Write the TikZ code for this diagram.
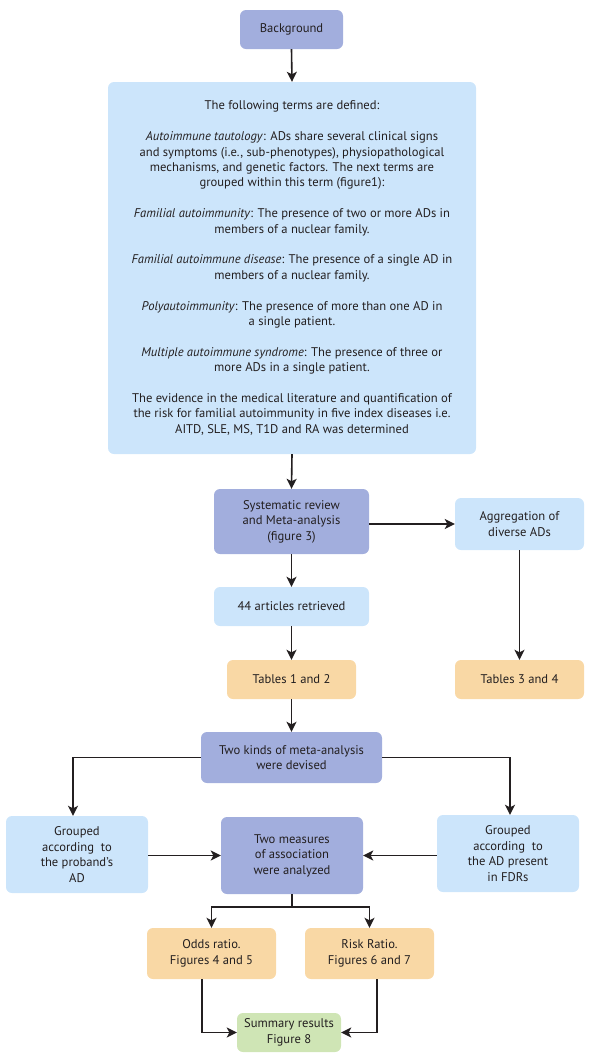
\documentclass[tikz,border=0pt]{standalone}
\usepackage{fontspec}
\setmainfont{PT Sans}
\usetikzlibrary{arrows.meta,calc}
\definecolor{purp}{HTML}{A2AEDD}
\definecolor{lblue}{HTML}{CCE5FB}
\definecolor{orng}{HTML}{F9D8A5}
\definecolor{grn}{HTML}{CFE5B5}
\definecolor{txt}{HTML}{231F20}
\begin{document}
\begin{tikzpicture}[x=1pt,y=-1pt,
  bx/.style n args={3}{fill=#1, minimum width=#2, minimum height=#3, rounded corners=6pt,
     align=center, inner sep=0pt, text=txt, font=\fontsize{12.6}{15.4}\selectfont},
  arr/.style={draw=txt, line width=1.6pt, -{Stealth[length=10pt,width=10pt,inset=2.5pt]}},
  ln/.style={draw=txt, line width=1.6pt}]
\useasboundingbox (0,0) rectangle (600,1061);
\node[bx={purp}{103}{39}] (bg) at (291.5,29.5) {Background};
\node[bx={lblue}{368}{372}] (big) at (292,268) {The following terms are defined:\\[15.4pt]
\textit{Autoimmune tautology}: ADs share several clinical signs\\
and symptoms (i.e., sub-phenotypes), physiopathological\\
mechanisms, and genetic factors. The next terms are\\
grouped within this term (figure1):\\[15.4pt]
\textit{Familial autoimmunity}: The presence of two or more ADs in\\
members of a nuclear family.\\[15.4pt]
\textit{Familial autoimmune disease}: The presence of a single AD in\\
members of a nuclear family.\\[15.4pt]
\textit{Polyautoimmunity}: The presence of more than one AD in\\
a single patient.\\[15.4pt]
\textit{Multiple autoimmune syndrome}: The presence of three or\\
more ADs in a single patient.\\[15.4pt]
The evidence in the medical literature and quantification of\\
the risk for familial autoimmunity in five index diseases i.e.\\
AITD, SLE, MS, T1D and RA was determined};
\node[bx={purp}{155}{65}] (sr) at (291.5,521.5) {Systematic review\\and Meta-analysis\\(figure 3)};
\node[bx={lblue}{129}{52}] (agg) at (519.5,524) {Aggregation of\\diverse ADs};
\node[bx={lblue}{155}{39}] (art) at (291.5,606.5) {44 articles retrieved};
\node[bx={orng}{129}{39}] (t12) at (291.5,679.5) {Tables 1 and 2};
\node[bx={orng}{129}{39}] (t34) at (519.5,679.5) {Tables 3 and 4};
\node[bx={purp}{181}{51}] (tk) at (291.5,757.5) {Two kinds of meta-analysis\\were devised};
\node[bx={lblue}{142}{77}] (gl) at (77,854.5) {Grouped\\according\ \ to\\the proband's\\AD};
\node[bx={purp}{142}{77}] (tm) at (292,855.5) {Two measures\\of association\\were analyzed};
\node[bx={lblue}{142}{77}] (gr) at (508,853.5) {Grouped\\according\ \ to\\the AD present\\in FDRs};
\node[bx={orng}{129}{51}] (odds) at (211.5,953.5) {Odds ratio.\\Figures 4 and 5};
\node[bx={orng}{129}{51}] (risk) at (369.5,953.5) {Risk Ratio.\\Figures 6 and 7};
\node[bx={grn}{104}{39}] (sum) at (289,1032.5) {Summary results\\Figure 8};
\coordinate (split) at ($(tm.south)+(0,13)$);
\path[arr] (bg.south) -- (big.north);
\path[arr] (big.south) -- (sr.north);
\path[arr] (agg.west -| sr.east) -- (agg.west);
\path[arr] (sr.south) -- (art.north);
\path[arr] (art.south) -- (t12.north);
\path[arr] (agg.south) -- (t34.north);
\path[arr] (t12.south) -- (tk.north);
\path[arr] (tk.west) -| ([xshift=-4pt]gl.north);
\path[arr] (tk.east) -| ([xshift=2pt]gr.north);
\path[arr] (gl.east |- tm.west) -- (tm.west);
\path[arr] (gr.west |- tm.east) -- (tm.east);
\path[ln] (tm.south) -- (split);
\path[arr] (split) -| (odds.north);
\path[arr] (split) -| (risk.north);
\path[arr] ([xshift=-9.5pt]odds.south) |- (sum.west);
\path[arr] ([xshift=7.5pt]risk.south) |- (sum.east);
\end{tikzpicture}
\end{document}
